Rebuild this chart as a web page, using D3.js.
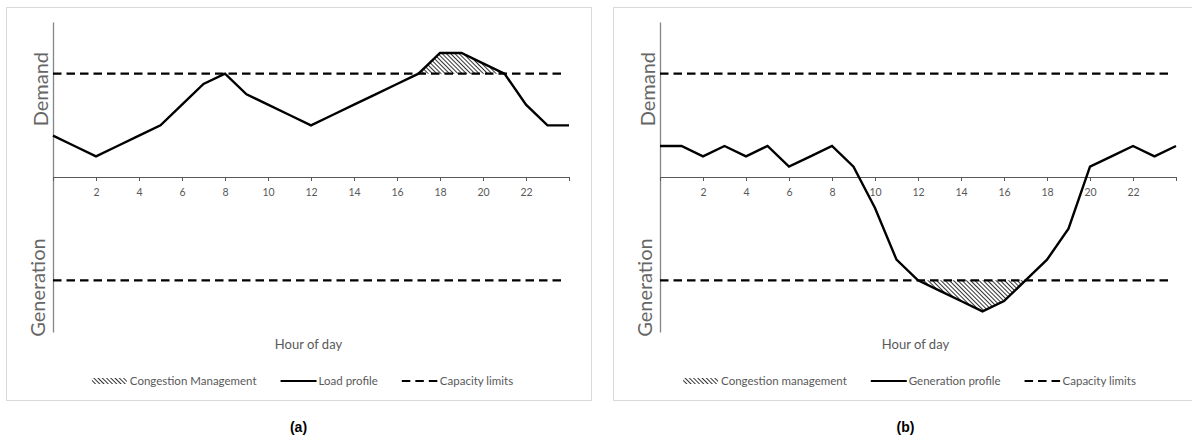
<!DOCTYPE html>
<html>
<head>
<meta charset="utf-8">
<script src="https://cdn.jsdelivr.net/npm/d3@7"></script>
<style>
  html, body { margin: 0; padding: 0; background: #fff; }
  svg { display: block; }
  text { font-family: Lato, "Open Sans", sans-serif; }
</style>
</head>
<body>
<svg id="chart" width="1192" height="439"></svg>
<script>
// Hourly values (arbitrary units); positive = demand, negative = generation
const hours = d3.range(0, 25);
const loadProfile = [4, 3, 2, 3, 4, 5, 7, 9, 10, 8, 7, 6, 5, 6, 7, 8, 9, 10, 12, 12, 11, 10, 7, 5, 5];
const generationProfile = [3, 3, 2, 3, 2, 3, 1, 2, 3, 1, -3, -8, -10, -11, -12, -13, -12, -10, -8, -5, 1, 2, 3, 2, 3];
const capacityLimit = 10;
const tickHours = [0, 2, 4, 6, 8, 10, 12, 14, 16, 18, 20, 22, 24];
const labelHours = [2, 4, 6, 8, 10, 12, 14, 16, 18, 20, 22];

const panels = [
  { left: 6, tag: "(a)", profile: loadProfile, side: 1,
    legend: ["Congestion Management", "Load profile", "Capacity limits"] },
  { left: 613, tag: "(b)", profile: generationProfile, side: -1,
    legend: ["Congestion management", "Generation profile", "Capacity limits"] }
];

const svg = d3.select("#chart");
const W = 585, TOP = 7, BOTTOM = 400;

// Diagonal hatch for the congestion areas
const defs = svg.append("defs");
defs.append("pattern")
  .attr("id", "hatch")
  .attr("patternUnits", "userSpaceOnUse")
  .attr("width", 3).attr("height", 3)
  .attr("patternTransform", "rotate(-45)")
  .append("line")
  .attr("x1", 0.5).attr("y1", 0).attr("x2", 0.5).attr("y2", 3)
  .attr("stroke", "#333").attr("stroke-width", 1);

panels.forEach(p => {
  const g = svg.append("g").attr("transform", `translate(${p.left},0)`);

  // panel frame
  g.append("rect")
    .attr("x", 0.5).attr("y", TOP + 0.5)
    .attr("width", W).attr("height", BOTTOM - TOP)
    .attr("fill", "none").attr("stroke", "#d9d9d9").attr("stroke-width", 1);

  const x = d3.scaleLinear().domain([0, 24]).range([47, 563]);
  const y = d3.scaleLinear().domain([-15, 15]).range([332, 22]);

  // congestion area: part of the profile beyond the capacity limit
  const limit = p.side * capacityLimit;
  const area = d3.area()
    .x((d, i) => x(hours[i]))
    .y0(y(limit))
    .y1(d => y(p.side > 0 ? Math.max(d, limit) : Math.min(d, limit)));
  g.append("path")
    .datum(p.profile)
    .attr("d", area)
    .attr("fill", "url(#hatch)");

  // vertical axis (no ticks)
  g.append("g")
    .attr("transform", `translate(${x(0)},0)`)
    .call(d3.axisLeft(y).tickValues([]).tickSizeOuter(0))
    .call(s => s.select(".domain").attr("stroke", "#868686").attr("stroke-width", 1.3));

  // hour axis through zero
  g.append("g")
    .attr("transform", `translate(0,${y(0)})`)
    .call(d3.axisBottom(x).tickValues(tickHours).tickSize(4).tickSizeOuter(0).tickPadding(8)
      .tickFormat(h => labelHours.includes(h) ? h : ""))
    .call(s => {
      s.select(".domain").attr("stroke", "#595959");
      s.selectAll(".tick line").attr("stroke", "#595959");
      s.selectAll(".tick text").attr("fill", "#595959")
        .style("font-size", "10.5px").style("font-family", "Lato, sans-serif");
    });

  // capacity limits
  [capacityLimit, -capacityLimit].forEach(c => {
    g.append("line")
      .attr("x1", x(0)).attr("x2", x(23.75))
      .attr("y1", y(c)).attr("y2", y(c))
      .attr("stroke", "#000").attr("stroke-width", 2.2)
      .attr("stroke-dasharray", "8.5,5");
  });

  // profile line
  const line = d3.line().x((d, i) => x(hours[i])).y(d => y(d));
  g.append("path")
    .datum(p.profile)
    .attr("d", line)
    .attr("fill", "none").attr("stroke", "#000")
    .attr("stroke-width", 2.4).attr("stroke-linejoin", "miter");

  // side titles
  const side = g.append("g").attr("fill", "#666")
    .style("font-size", "20px").style("font-weight", 400);
  side.append("text")
    .attr("transform", `translate(35,${y(8.5)}) rotate(-90)`)
    .attr("text-anchor", "middle").attr("dy", "0.35em")
    .text("Demand");
  side.append("text")
    .attr("transform", `translate(32,${y(-10.7)}) rotate(-90)`)
    .attr("text-anchor", "middle").attr("dy", "0.35em")
    .text("Generation");

  // x title
  g.append("text")
    .attr("x", W / 2 + 10).attr("y", 344).attr("dy", "0.35em")
    .attr("text-anchor", "middle").attr("fill", "#595959")
    .style("font-size", "13px")
    .text("Hour of day");

  // legend
  const lg = g.append("g").attr("transform", "translate(0,381)");
  const items = [];
  p.legend.forEach((label, i) => {
    const it = lg.append("g");
    if (i === 0) {
      it.append("rect").attr("x", 0).attr("y", -3).attr("width", 35).attr("height", 6)
        .attr("fill", "url(#hatch)");
    } else {
      it.append("line").attr("x1", 0).attr("x2", 36).attr("y1", 0).attr("y2", 0)
        .attr("stroke", "#000").attr("stroke-width", 2.2)
        .attr("stroke-dasharray", i === 2 ? "8.5,5" : null);
    }
    const t = it.append("text").attr("x", 38).attr("dy", "0.35em")
      .attr("fill", "#595959").style("font-size", "11.5px").text(label);
    items.push({ it, w: 38 + t.node().getComputedTextLength() });
  });
  const gap = 24;
  const total = d3.sum(items, d => d.w) + gap * (items.length - 1);
  let cx = W / 2 + 4 - total / 2;
  items.forEach(d => { d.it.attr("transform", `translate(${cx},0)`); cx += d.w + gap; });

  // panel tag
  g.append("text")
    .attr("x", W / 2).attr("y", 427).attr("dy", "0.35em")
    .attr("text-anchor", "middle")
    .style("font-family", "'Liberation Sans', Arial, sans-serif")
    .style("font-weight", "bold").style("font-size", "14px")
    .attr("fill", "#000")
    .text(p.tag);
});
</script>
</body>
</html>
